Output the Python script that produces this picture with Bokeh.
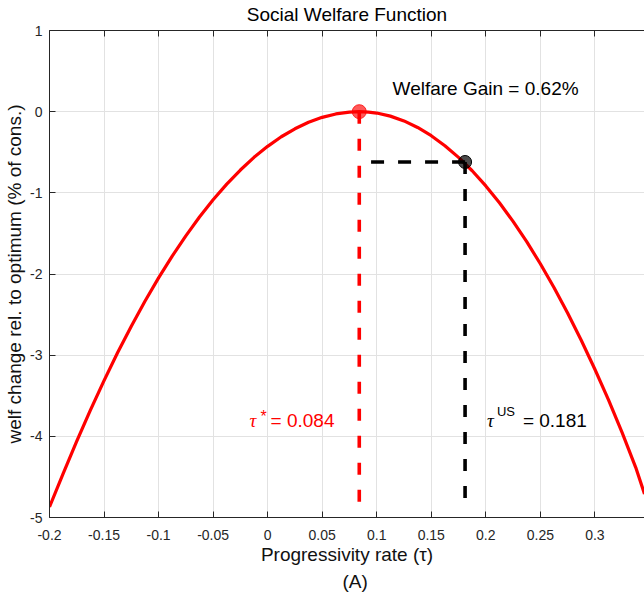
from bokeh.plotting import figure
from bokeh.models import FixedTicker, Label, LinearAxis, Range1d, Title
from bokeh.embed import file_html
from bokeh.resources import INLINE

# ---- data ----
tau = [-0.2, -0.1875, -0.175, -0.1625, -0.15, -0.1375, -0.125, -0.1125, -0.1, -0.0875,
       -0.075, -0.0625, -0.05, -0.0375, -0.025, -0.0125, 0.0, 0.0125, 0.025, 0.0375,
       0.05, 0.0625, 0.075, 0.084, 0.0925, 0.1, 0.1125, 0.125, 0.1375, 0.15,
       0.1625, 0.175, 0.1875, 0.2, 0.2125, 0.225, 0.2375, 0.25, 0.2625, 0.275,
       0.2875, 0.3, 0.3125, 0.325, 0.3375, 0.3455]
welfare = [-4.87, -4.46, -4.058, -3.676, -3.313, -2.968, -2.643, -2.336, -2.048, -1.779,
           -1.53, -1.298, -1.086, -0.893, -0.719, -0.563, -0.427, -0.309, -0.211, -0.131,
           -0.07, -0.028, -0.005, 0.0, -0.005, -0.017, -0.055, -0.114, -0.195, -0.296,
           -0.419, -0.563, -0.728, -0.915, -1.123, -1.352, -1.602, -1.874, -2.167, -2.481,
           -2.816, -3.173, -3.55, -3.955, -4.385, -4.71]

tau_opt = 0.084
w_opt = 0.0
tau_us = 0.181
w_us = -0.62
drop_opt_end = -4.87
drop_us_end = -4.80

x_ticks = [-0.2, -0.15, -0.1, -0.05, 0.0, 0.05, 0.1, 0.15, 0.2, 0.25, 0.3]
x_tick_labels = ["-0.2", "-0.15", "-0.1", "-0.05", "0", "0.05", "0.1", "0.15", "0.2", "0.25", "0.3"]
y_ticks = [-5, -4, -3, -2, -1, 0, 1]
y_tick_labels = ["-5", "-4", "-3", "-2", "-1", "0", "1"]

FONT = "Liberation Sans"
AX = "#262626"

p = figure(width=644, height=599, output_backend="svg", toolbar_location=None,
           x_range=Range1d(-0.2, 0.3455), y_range=Range1d(-5, 1),
           min_border_left=49, min_border_right=0, min_border_top=30, min_border_bottom=82)
p.outline_line_color = None
p.background_fill_color = "white"
p.border_fill_color = "white"

# axes
xt = FixedTicker(ticks=x_ticks)
yt = FixedTicker(ticks=y_ticks)
for ax in p.xaxis:
    ax.ticker = xt
    ax.major_label_overrides = {t: s for t, s in zip(x_ticks, x_tick_labels)}
for ax in p.yaxis:
    ax.ticker = yt
    ax.major_label_overrides = {t: s for t, s in zip(y_ticks, y_tick_labels)}
for ax in p.axis:
    ax.major_tick_in = 6
    ax.major_tick_out = 0
    ax.minor_tick_line_color = None
    ax.axis_line_color = AX
    ax.major_tick_line_color = AX
    ax.major_label_text_font = FONT
    ax.major_label_text_font_size = "14px"
    ax.major_label_text_color = AX
    ax.axis_label_text_font = FONT
    ax.axis_label_text_font_size = "19px"
    ax.axis_label_text_font_style = "normal"
    ax.axis_label_text_color = "#111111"
p.xaxis.major_label_standoff = 12
p.yaxis.major_label_standoff = 7
p.xaxis.axis_label = "Progressivity rate (\u03c4)"
p.yaxis.axis_label = "welf change rel. to optimum (% of cons.)"
p.xaxis.axis_label_standoff = 1
p.yaxis.axis_label_standoff = 2

# top box edge with inward ticks; carries the chart title
top = LinearAxis(ticker=xt, major_label_text_font_size="0px", major_label_standoff=0,
                 major_tick_in=6, major_tick_out=0, minor_tick_line_color=None,
                 axis_line_color=AX, major_tick_line_color=AX,
                 axis_label="Social Welfare Function", axis_label_standoff=6,
                 axis_label_text_font=FONT, axis_label_text_font_size="19px",
                 axis_label_text_font_style="normal", axis_label_text_color="black")
top.major_label_overrides = {t: "" for t in x_ticks}
p.add_layout(top, "above")

# panel label under the x-axis title
p.add_layout(Title(text="(A)", align="left", offset=293, standoff=3, text_font=FONT,
                   text_font_size="19px", text_font_style="normal", text_color="#111111"),
             "below")

p.xgrid.ticker = xt
p.ygrid.ticker = yt
p.grid.grid_line_color = "#e2e2e2"
p.grid.grid_line_width = 1

# curve
p.line(tau, welfare, line_color="red", line_width=3.2, line_join="round")

# dashed guides
p.line([tau_opt, tau_opt], [w_opt, drop_opt_end], line_color="red", line_width=3.6, line_dash="12 15")
p.line([tau_us, tau_us], [w_us, drop_us_end], line_color="black", line_width=3.6, line_dash="12 15")
p.line([tau_us, tau_opt], [w_us, w_us], line_color="black", line_width=3.6, line_dash="13 14")

# markers
p.scatter([tau_opt], [w_opt], size=14, fill_color="red", fill_alpha=0.65,
          line_color="red", line_alpha=0.8, line_width=1)
p.scatter([tau_us], [w_us], size=13, fill_color="black", fill_alpha=0.7,
          line_color="black", line_width=1)

# texts
def lab(x, y, text, size="19px", color="black", font=FONT, style="normal",
        xo=0, yo=0, align="left"):
    p.add_layout(Label(x=x, y=y, text=text, x_offset=xo, y_offset=yo,
                       text_font=font, text_font_size=size, text_font_style=style,
                       text_color=color, text_align=align, text_baseline="alphabetic"))

lab(0.1145, 0.286, "Welfare Gain = 0.62%")

lab(-0.0166, -3.805, "\u03c4", color="red", font="Liberation Serif", style="italic")
lab(-0.0166, -3.805, "*", size="16px", color="red", xo=11, yo=4)
lab(-0.0166, -3.805, "= 0.084", color="red", xo=21)

lab(0.2010, -3.805, "\u03c4", font="Liberation Serif", style="italic")
lab(0.2010, -3.805, "US", size="13px", xo=10, yo=9)
lab(0.2010, -3.805, "= 0.181", xo=36)

open("out.html", "w").write(file_html(p, INLINE))
